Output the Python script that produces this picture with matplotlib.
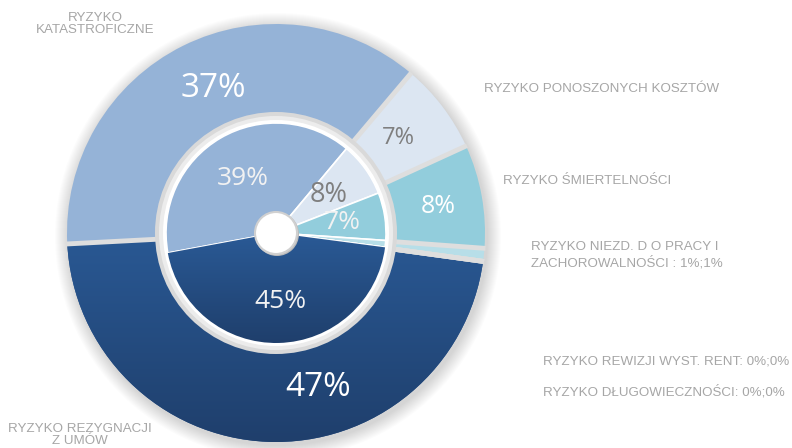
import numpy as np
import matplotlib.pyplot as plt
from matplotlib.patches import Circle
from matplotlib.colors import LinearSegmentedColormap

# data (outer ring = first series, inner ring = second series)
categories = ['RYZYKO KATASTROFICZNE', 'RYZYKO PONOSZONYCH KOSZTÓW', 'RYZYKO ŚMIERTELNOŚCI',
              'RYZYKO NIEZD. D O PRACY I ZACHOROWALNOŚCI', 'RYZYKO REWIZJI WYST. RENT',
              'RYZYKO DŁUGOWIECZNOŚCI', 'RYZYKO REZYGNACJI Z UMÓW']
outer_vals = [37, 7, 8, 1, 0, 0, 47]
inner_vals = [39, 8, 7, 1, 0, 0, 45]
colors = ['#95B3D7', '#DCE6F2', '#92CDDC', '#B7DEE8', '#B7DEE8', '#B7DEE8', '#27528C']

W, H = 792, 448
cx, cy = 276, H - 233
R_out, R_ring_in = 209, 120
R_in = 110
start_out, start_in = 183, 190.5

fig = plt.figure(figsize=(W / 100, H / 100), dpi=100)
ax = fig.add_axes([0, 0, 1, 1])

# soft shadow around the outer ring
for k in range(14, 0, -1):
    ax.add_patch(Circle((cx + 2, cy - 3), R_out + k, color='#000000', alpha=0.013, lw=0, zorder=1))

# outer ring
wo, _ = ax.pie(outer_vals, colors=colors, startangle=start_out, counterclock=False,
               radius=R_out, center=(cx, cy), frame=True,
               wedgeprops=dict(width=R_out - R_ring_in, linewidth=0))
for w in wo:
    w.set_zorder(2)

# gradient on the dark slice
grad = np.linspace(0, 1, 256).reshape(-1, 1)
cmap = LinearSegmentedColormap.from_list('blu', ['#1F3F6C', '#2A5A96'])
im = ax.imshow(grad, cmap=cmap, extent=(cx - R_out, cx + R_out, cy - R_out, cy + 10),
               origin='lower', aspect='auto', zorder=2.5)
im.set_clip_path(wo[-1])

# gray separators between outer slices (no outline on the rim)
cum = np.cumsum([0] + outer_vals)
for c in cum[:-1]:
    a = np.radians(start_out - 360.0 * c / sum(outer_vals))
    ax.plot([cx + R_ring_in * np.cos(a), cx + (R_out + 1) * np.cos(a)],
            [cy + R_ring_in * np.sin(a), cy + (R_out + 1) * np.sin(a)],
            color='#DEDEDE', lw=3.5, solid_capstyle='butt', zorder=2.7)

# gray gap ring between rings
ax.add_patch(Circle((cx, cy), R_ring_in + 1, color='#D9D9D9', lw=0, zorder=3))
ax.add_patch(Circle((cx, cy), R_ring_in - 3, color='#ECECEC', lw=0, zorder=3))
ax.add_patch(Circle((cx, cy), R_in + 3, color='#FFFFFF', lw=0, zorder=3))

# inner pie
wi, _ = ax.pie(inner_vals, colors=colors, startangle=start_in, counterclock=False,
               radius=R_in, center=(cx, cy), frame=True,
               wedgeprops=dict(edgecolor='white', linewidth=1.2))
for w in wi:
    w.set_zorder(4)
im2 = ax.imshow(grad, cmap=cmap, extent=(cx - R_in, cx + R_in, cy - R_in, cy),
                origin='lower', aspect='auto', zorder=4.5)
im2.set_clip_path(wi[-1])

# center hole
ax.add_patch(Circle((cx + 1, cy - 1), 22, color='#BBBBBB', lw=0, zorder=5))
ax.add_patch(Circle((cx, cy), 21, facecolor='white', edgecolor='#D0D0D0', lw=1.5, zorder=6))

# value labels
fnt = 'Open Sans'
pct = [
    ('37%', 213, 88, 24, 'white'),
    ('7%', 398, 138, 17, '#7F7F7F'),
    ('8%', 438, 206, 18, 'white'),
    ('47%', 318, 388, 24, 'white'),
    ('39%', 243, 178, 19, '#F2F2F2'),
    ('8%', 329, 195, 19.5, '#7F7F7F'),
    ('7%', 342, 222, 19, '#F2F2F2'),
    ('45%', 280, 302, 19, '#F2F2F2'),
]
for t, x, y, s, c in pct:
    ax.text(x, H - y, t, fontsize=s, color=c, family=fnt, ha='center', va='center', zorder=10)

# category labels
lab = 'Liberation Sans'
gray = '#A6A6A6'
fs = 9.6
ax.text(95, H - 24, 'RYZYKO\nKATASTROFICZNE', fontsize=fs, color=gray, family=lab,
        ha='center', va='center', linespacing=1.1)
ax.text(484, H - 89, 'RYZYKO PONOSZONYCH KOSZTÓW', fontsize=fs, color=gray, family=lab, va='center')
ax.text(503, H - 181, 'RYZYKO ŚMIERTELNOŚCI', fontsize=fs, color=gray, family=lab, va='center')
ax.text(531, H - 255, 'RYZYKO NIEZD. D O PRACY I\nZACHOROWALNOŚCI : 1%;1%', fontsize=fs,
        color=gray, family=lab, va='center', linespacing=1.25)
ax.text(543, H - 362, 'RYZYKO REWIZJI WYST. RENT: 0%;0%', fontsize=fs, color=gray, family=lab, va='center')
ax.text(543, H - 392, 'RYZYKO DŁUGOWIECZNOŚCI: 0%;0%', fontsize=fs, color=gray, family=lab, va='center')
ax.text(80, H - 435, 'RYZYKO REZYGNACJI\nZ UMÓW', fontsize=fs, color=gray, family=lab,
        ha='center', va='center', linespacing=0.95)

ax.set_xlim(0, W)
ax.set_ylim(0, H)
ax.set_aspect('equal')
ax.axis('off')
fig.savefig('out.png', dpi=100)
